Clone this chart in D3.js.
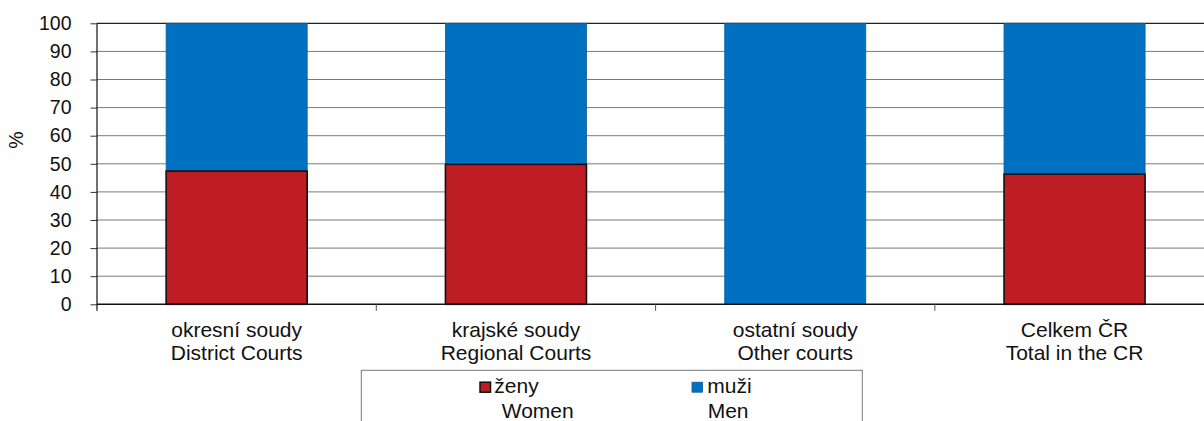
<!DOCTYPE html>
<html>
<head>
<meta charset="utf-8">
<script src="https://cdn.jsdelivr.net/npm/d3@7"></script>
<style>
  html, body { margin: 0; padding: 0; background: #fff; }
  svg { display: block; font-family: "Liberation Sans", Arial, sans-serif; }
</style>
</head>
<body>
<svg id="chart" width="1204" height="421"></svg>
<script>
const categoriesCz = ["okresní soudy", "krajské soudy", "ostatní soudy", "Celkem ČR"];
const categoriesEn = ["District Courts", "Regional Courts", "Other courts", "Total in the CR"];
const women = [47.4, 49.8, 0, 46.3];
const men = [52.6, 50.2, 100, 53.7];
const yTicks = [0, 10, 20, 30, 40, 50, 60, 70, 80, 90, 100];
const legendCz = ["ženy", "muži"];
const legendEn = ["Women", "Men"];
const colors = ["#BE1D24", "#0070C0"];

(function () {
const svg = d3.select("#chart");
const mLeft = 97, mTop = 23.3, mBottom = 304.3;
const plotRight = 97 + 4 * 279.3;
const labelSize = 21;

const x = d3.scaleBand().domain(categoriesCz).range([mLeft, plotRight])
  .paddingInner(0.495).paddingOuter(0.2475);
const y = d3.scaleLinear().domain([0, 100]).range([mBottom, mTop]);

// gridlines
svg.append("g").selectAll("line").data(yTicks.filter(d => d > 0 && d < 100)).join("line")
  .attr("x1", mLeft).attr("x2", 1204)
  .attr("y1", d => y(d)).attr("y2", d => y(d))
  .attr("stroke", "#7a7a7a").attr("stroke-width", 1);
svg.append("line").attr("x1", mLeft).attr("x2", 1204)
  .attr("y1", y(100)).attr("y2", y(100)).attr("stroke", "#222").attr("stroke-width", 1.2);

// y axis
const yAxis = d3.axisLeft(y).tickValues(yTicks).tickSize(6.5).tickPadding(19);
const ya = svg.append("g").attr("transform", `translate(${mLeft},0)`).call(yAxis);
ya.select(".domain").remove();
ya.selectAll(".tick line").attr("stroke", "#333");
ya.selectAll(".tick text").attr("font-size", 19.5).attr("fill", "#111")
  .attr("font-family", "Liberation Sans, Arial, sans-serif");
svg.append("line").attr("x1", mLeft).attr("x2", mLeft).attr("y1", mTop).attr("y2", mBottom + 6.5)
  .attr("stroke", "#111").attr("stroke-width", 1.2);

// bars
const g = svg.append("g");
categoriesCz.forEach((c, i) => {
  g.append("rect")
    .attr("x", x(c)).attr("width", x.bandwidth())
    .attr("y", y(women[i] + men[i])).attr("height", y(women[i]) - y(women[i] + men[i]))
    .attr("fill", colors[1]).attr("stroke", "#0a5d9e").attr("stroke-width", 0.8);
  if (women[i] > 0) {
    g.append("rect")
      .attr("x", x(c)).attr("width", x.bandwidth())
      .attr("y", y(women[i])).attr("height", y(0) - y(women[i]))
      .attr("fill", colors[0]).attr("stroke", "#111").attr("stroke-width", 1.6);
  }
});

// x axis
svg.append("line").attr("x1", mLeft).attr("x2", 1204).attr("y1", mBottom).attr("y2", mBottom)
  .attr("stroke", "#111").attr("stroke-width", 1.4);
const boundaries = categoriesCz.slice(1).map(c => x(c) - x.step() * x.paddingInner() / 2);
svg.append("g").selectAll("line").data(boundaries).join("line")
  .attr("x1", d => d).attr("x2", d => d).attr("y1", mBottom).attr("y2", mBottom + 6.5)
  .attr("stroke", "#555").attr("stroke-width", 1);

const labels = svg.append("g").attr("font-size", labelSize).attr("fill", "#111").attr("text-anchor", "middle");
categoriesCz.forEach((c, i) => {
  const cx = x(c) + x.bandwidth() / 2;
  labels.append("text").attr("x", cx).attr("y", 336.7).text(c);
  labels.append("text").attr("x", cx).attr("y", 360).text(categoriesEn[i]);
});

// y label
svg.append("text").attr("transform", "translate(23,140) rotate(-90)")
  .attr("text-anchor", "middle").attr("font-size", 19.5).attr("fill", "#111").text("%");

// legend
svg.append("rect").attr("x", 361.3).attr("y", 370.3).attr("width", 501).attr("height", 60)
  .attr("fill", "#fff").attr("stroke", "#777").attr("stroke-width", 1);
const legX = [480, 692];
const legTextX = [494.3, 707.3];
const legEnX = [501.7, 707.7];
legendCz.forEach((t, i) => {
  svg.append("rect").attr("x", legX[i]).attr("y", 382.2).attr("width", 10.5).attr("height", 10)
    .attr("fill", colors[i]).attr("stroke", i === 0 ? "#111" : "#0a5d9e").attr("stroke-width", i === 0 ? 1.5 : 0.8);
  svg.append("text").attr("x", legTextX[i]).attr("y", 393.3).attr("font-size", labelSize).attr("fill", "#111").text(t);
  svg.append("text").attr("x", legEnX[i]).attr("y", 418.3).attr("font-size", labelSize).attr("fill", "#111").text(legendEn[i]);
});
})();
</script>
</body>
</html>
